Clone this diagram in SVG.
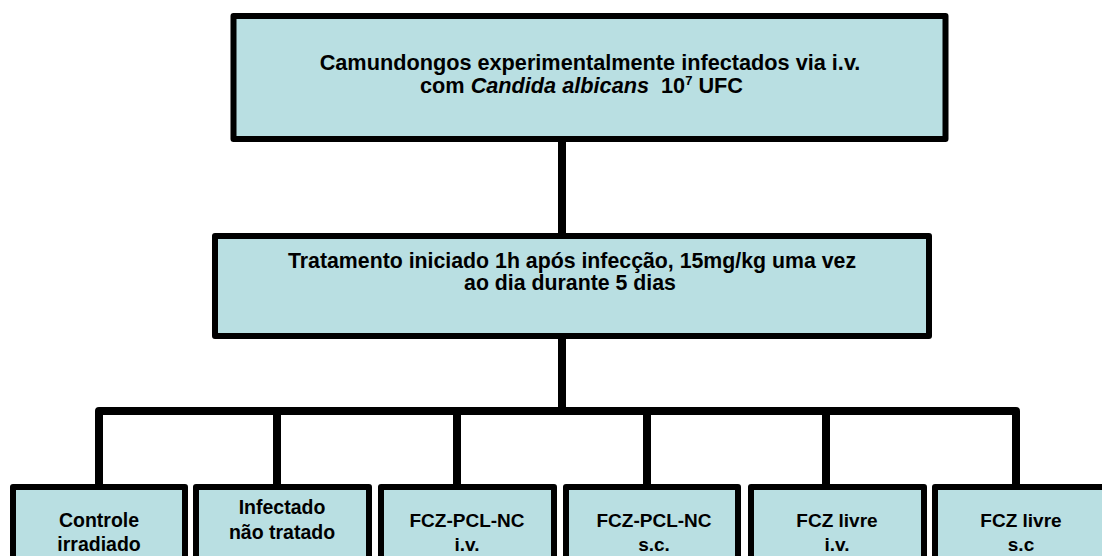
<svg xmlns="http://www.w3.org/2000/svg" width="1102" height="556" viewBox="0 0 1102 556">
<style>
.box{fill:#B9DFE2;stroke:#000;stroke-width:6;stroke-linejoin:round}
.t{font-family:"Liberation Sans",Arial,sans-serif;font-weight:bold;fill:#000;text-anchor:middle}
.c{fill:none;stroke:#000;stroke-width:8;stroke-linejoin:round}
</style>
<rect width="1102" height="556" fill="#fff"/>
<g id="connectors">
<path class="c" d="M562,139 V236"/>
<path class="c" d="M562,336 V411"/>
<path class="c" d="M99,487 V411 H1016 V487"/>
<path class="c" d="M277,411 V487 M457,411 V487 M647,411 V487 M826,411 V487"/>
</g>
<g id="n1">
<rect class="box" x="233.5" y="16" width="712" height="123"/>
<text class="t" x="590" y="70" font-size="21.7">Camundongos experimentalmente infectados via i.v.</text>
<text class="t" x="420" y="93" font-size="21.7" style="text-anchor:start">com <tspan font-style="italic">Candida albicans</tspan><tspan dx="6"> 10</tspan><tspan font-size="13" dy="-8">7</tspan><tspan dy="8"> UFC</tspan></text>
</g>
<g id="n2">
<rect class="box" x="215" y="236" width="714" height="100"/>
<text class="t" x="572" y="268" font-size="21.3">Tratamento iniciado 1h após infecção, 15mg/kg uma vez</text>
<text class="t" x="570" y="290" font-size="21.3">ao dia durante 5 dias</text>
</g>
<g id="b1">
<rect class="box" x="13" y="487" width="172" height="90"/>
<text class="t" x="99" y="527" font-size="19.5">Controle</text>
<text class="t" x="99" y="551" font-size="19.5">irradiado</text>
</g>
<g id="b2">
<rect class="box" x="196" y="487" width="173" height="90"/>
<text class="t" x="282" y="514" font-size="19.5">Infectado</text>
<text class="t" x="282" y="539" font-size="19.5">não tratado</text>
</g>
<g id="b3">
<rect class="box" x="381" y="487" width="173" height="90"/>
<text class="t" x="467" y="527" font-size="19">FCZ-PCL-NC</text>
<text class="t" x="467" y="551" font-size="19">i.v.</text>
</g>
<g id="b4">
<rect class="box" x="566" y="487" width="172" height="90"/>
<text class="t" x="654" y="527" font-size="19">FCZ-PCL-NC</text>
<text class="t" x="654" y="551" font-size="19">s.c.</text>
</g>
<g id="b5">
<rect class="box" x="751" y="487" width="173" height="90"/>
<text class="t" x="837" y="527" font-size="19">FCZ livre</text>
<text class="t" x="837" y="551" font-size="19">i.v.</text>
</g>
<g id="b6">
<rect class="box" x="935" y="487" width="173" height="90"/>
<text class="t" x="1021" y="527" font-size="19">FCZ livre</text>
<text class="t" x="1021" y="551" font-size="19">s.c</text>
</g>
</svg>
